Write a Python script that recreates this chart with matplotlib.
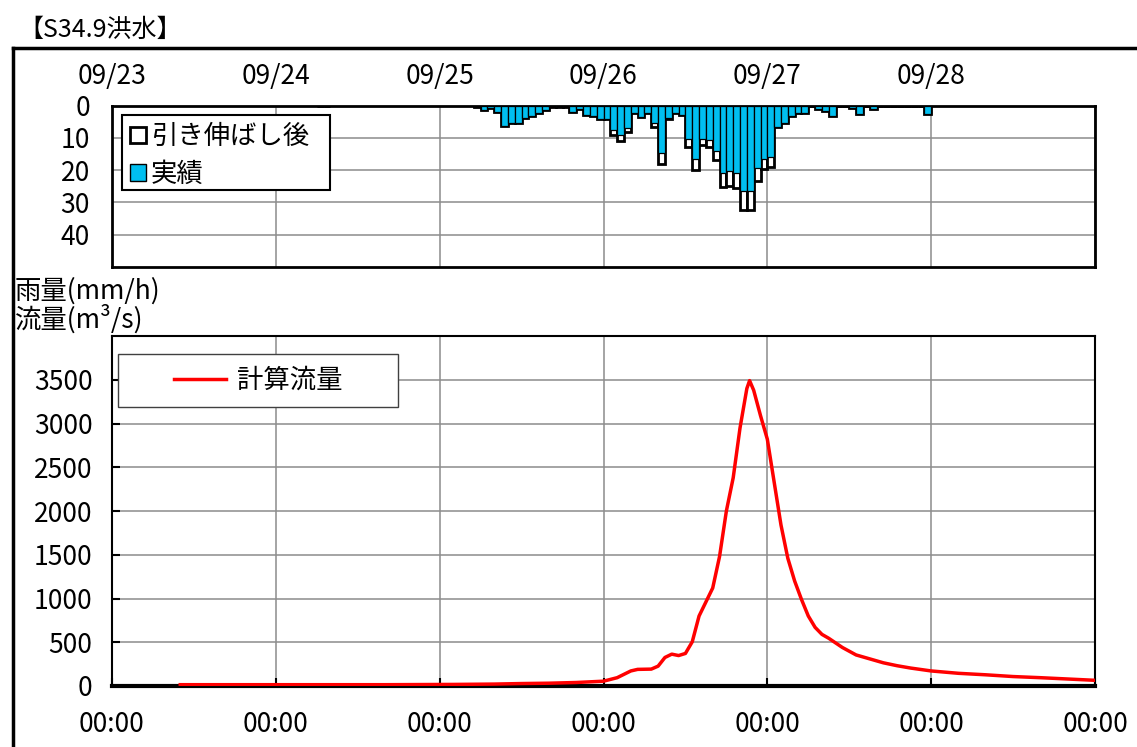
import matplotlib
matplotlib.use('Agg')
import matplotlib.pyplot as plt
from matplotlib.patches import Rectangle, Patch
from matplotlib.lines import Line2D

plt.rcParams['font.family'] = ['Noto Sans CJK JP', 'DejaVu Sans']

# ---------------- data ----------------
title = '【S34.9洪水】'
ylabel_rain = '雨量(mm/h)'
ylabel_flow = '流量(m³/s)'
legend_stretched = '引き伸ばし後'
legend_actual = '実績'
legend_flow = '計算流量'

day_hours = [0, 24, 48, 72, 96, 120, 144]          # hours since 09/23 00:00
day_labels = ['09/23', '09/24', '09/25', '09/26', '09/27', '09/28', '']
time_labels = ['00:00', '00:00', '00:00', '00:00', '00:00', '00:00', '00:00']
rain_yticks = [0, 10, 20, 30, 40]
flow_yticks = [0, 500, 1000, 1500, 2000, 2500, 3000, 3500]

# hourly rainfall (hour index since 09/23 00:00)
rain_hours = [30, 31] + list(range(53, 120))
rain_actual = [0.2, 0.2,
               0.6, 1.4, 0.8, 1.9, 6.3, 5.3, 5.3, 3.9, 3.1, 2.4,
               1.4, 0.6, 0.4, 0.6, 1.9, 1.2, 2.8, 3.4, 4.2, 4.3,
               7.6, 9.1, 6.9, 2.2, 3.5, 2.2, 5.5, 14.8, 3.8, 2.2,
               3.0, 10.4, 16.6, 10.4, 10.7, 14.0, 20.9, 20.4, 20.9, 26.6,
               26.4, 19.4, 16.6, 15.8, 6.6, 5.5, 3.4, 2.4, 2.4, 0.0,
               1.0, 1.7, 3.4, 0.0, 0.0, 0.9, 2.7, 0.0, 1.1, 0.0,
               0.0, 0.0, 0.0, 0.0, 0.0, 0.0, 2.7]
rain_stretched = [0.3, 0.3,
                  0.6, 1.4, 0.8, 1.9, 6.3, 5.3, 5.3, 3.9, 3.1, 2.4,
                  1.4, 0.6, 0.4, 0.6, 1.9, 1.2, 2.8, 3.4, 4.2, 4.3,
                  9.2, 10.9, 8.1, 2.2, 3.5, 2.2, 6.6, 18.1, 4.3, 2.2,
                  3.0, 12.7, 20.0, 12.2, 12.7, 17.0, 25.3, 25.0, 25.5, 32.2,
                  32.2, 23.5, 19.7, 18.9, 6.6, 5.5, 3.4, 2.4, 2.4, 0.0,
                  1.0, 1.7, 3.4, 0.0, 0.0, 0.9, 2.7, 0.0, 1.1, 0.0,
                  0.0, 0.0, 0.0, 0.0, 0.0, 0.0, 2.7]

# computed discharge
flow_hours = [10, 20, 30, 40, 50, 56, 60, 64, 68, 72, 74, 76, 77, 79, 80, 81, 82, 83, 84,
              85, 86, 87, 88, 89, 90, 91, 92, 93, 93.4, 94, 95, 96, 97, 98, 99, 100, 101,
              102, 103, 104, 105, 107, 109, 111, 113, 115, 117, 120, 124, 128, 132, 136,
              140, 144]
flow_vals = [15, 15, 15, 15, 18, 22, 28, 32, 40, 55, 95, 172, 190, 193, 227, 326, 364, 348, 372,
             505, 800, 960, 1120, 1480, 2000, 2380, 2950, 3400, 3490, 3380, 3090, 2820, 2330,
             1840, 1460, 1200, 990, 800, 670, 590, 545, 440, 355, 310, 265, 232, 205, 172,
             145, 128, 108, 95, 80, 65]

# ---------------- styling ----------------
W, H = 1137, 747
BLUE = '#00BFF0'
GRID = '#8c8c8c'
FS = 19

fig = plt.figure(figsize=(W / 100, H / 100), dpi=100)

def fx(px):
    return px / W

def fy(py):
    return 1 - py / H

# outer frame
fig.add_artist(Line2D([fx(13), fx(13)], [0, fy(48)], color='black', lw=2.5, transform=fig.transFigure))
fig.add_artist(Line2D([fx(13), 1], [fy(48), fy(48)], color='black', lw=2.5, transform=fig.transFigure))

fig.text(fx(18), fy(30), title, fontsize=18, va='center', ha='left')
fig.text(fx(15), fy(291), ylabel_rain, fontsize=FS, va='center', ha='left')
fig.text(fx(15), fy(319), ylabel_flow, fontsize=FS, va='center', ha='left')

# ---------- rainfall axes ----------
L, R = 112, 1095
ax1 = fig.add_axes([fx(L), fy(267), (R - L) / W, (267 - 105.5) / H])
ax1.set_axisbelow(True)
ax1.bar(rain_hours, rain_stretched, width=1, align='edge', color='white',
        edgecolor='black', linewidth=2.0, zorder=3)
ax1.bar(rain_hours, rain_actual, width=1, align='edge', color=BLUE,
        edgecolor='black', linewidth=0.9, zorder=4)
ax1.set_xlim(0, 144)
ax1.set_ylim(50, 0)
ax1.xaxis.tick_top()
ax1.set_xticks(day_hours)
ax1.set_xticklabels(day_labels)
ax1.set_yticks(rain_yticks)
ax1.set_yticklabels([str(v) for v in rain_yticks])
ax1.tick_params(axis='x', length=0, pad=11, labelsize=FS)
ax1.tick_params(axis='y', length=0, pad=16, labelsize=FS)
ax1.grid(True, color=GRID, lw=1.1)
for s in ax1.spines.values():
    s.set_color('black')
    s.set_linewidth(2)

ax1.add_patch(Rectangle((0.0102, 0.477), 0.2116, 0.464, transform=ax1.transAxes,
                        facecolor='white', edgecolor='black', lw=1.5, zorder=6))
h1 = [Patch(facecolor='white', edgecolor='black', lw=2.0, label=legend_stretched),
      Patch(facecolor=BLUE, edgecolor='black', lw=1.0, label=legend_actual)]
leg1 = ax1.legend(handles=h1, loc='center left', bbox_to_anchor=(0.018, 0.69),
                  frameon=False, fontsize=FS, handlelength=0.6, handleheight=0.6,
                  handletextpad=0.2, borderpad=0, borderaxespad=0, labelspacing=0.4)
leg1.set_zorder(7)

# ---------- discharge axes ----------
ax2 = fig.add_axes([fx(L), fy(686), (R - L) / W, (686 - 336) / H])
ax2.set_axisbelow(True)
ax2.plot(flow_hours, flow_vals, color='red', lw=2.5, zorder=3, label=legend_flow)
ax2.set_xlim(0, 144)
ax2.set_ylim(0, 4000)
ax2.set_xticks(day_hours)
ax2.set_xticklabels(time_labels)
ax2.set_yticks(flow_yticks)
ax2.set_yticklabels([str(v) for v in flow_yticks])
ax2.tick_params(axis='both', direction='in', length=6, width=1.5, labelsize=FS)
ax2.tick_params(axis='x', pad=18)
ax2.tick_params(axis='y', pad=14)
ax2.grid(True, color=GRID, lw=1.1)
for s in ax2.spines.values():
    s.set_color('black')
    s.set_linewidth(1.5)
ax2.spines['bottom'].set_linewidth(3)

ax2.add_patch(Rectangle((0.006, 0.797), 0.285, 0.1516, transform=ax2.transAxes,
                        facecolor='white', edgecolor='#404040', lw=1.0, zorder=6))
leg2 = ax2.legend(handles=[Line2D([], [], color='red', lw=2.5, label=legend_flow)],
                  loc='center', bbox_to_anchor=(0.1485, 0.873), frameon=False,
                  fontsize=FS, handlelength=2.0, handletextpad=0.4, borderpad=0,
                  borderaxespad=0)
leg2.set_zorder(7)

fig.savefig('out.png', dpi=100)
